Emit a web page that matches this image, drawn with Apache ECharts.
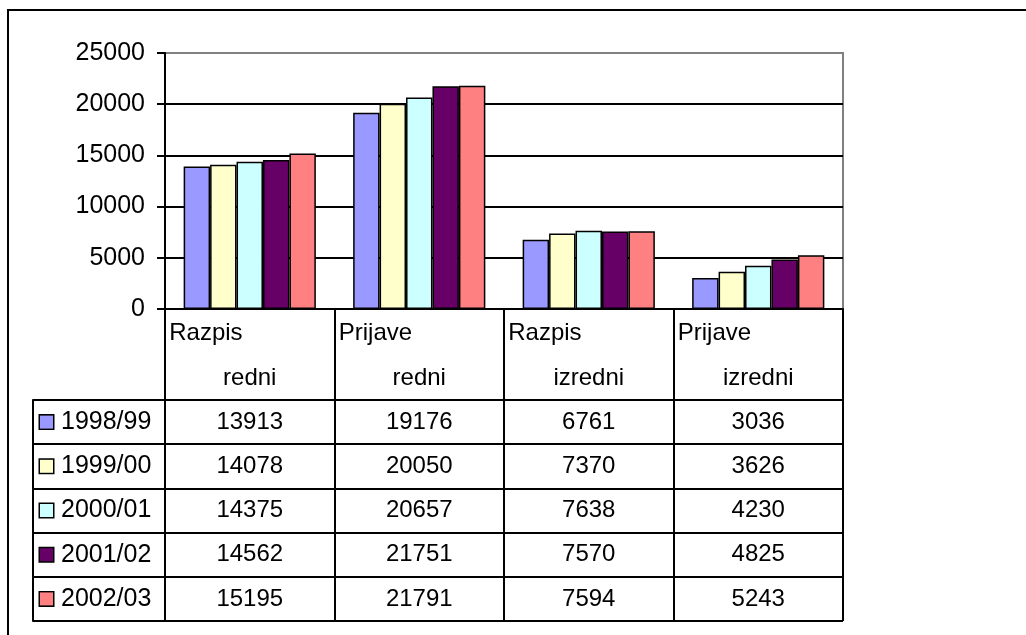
<!DOCTYPE html>
<html>
<head>
<meta charset="utf-8">
<script src="https://cdn.jsdelivr.net/npm/echarts@6/dist/echarts.min.js"></script>
<style>
html,body{margin:0;padding:0;background:#fff;overflow:hidden;}
#frame{position:absolute;left:7px;top:9px;width:1100px;height:700px;border:2px solid #000;box-sizing:border-box;}
#chart{position:absolute;left:0;top:0;width:1026px;height:635px;}
</style>
</head>
<body>
<div id="frame"></div>
<div id="chart"></div>
<script>
// ---- data ----
const categoriesTop = ['Razpis', 'Prijave', 'Razpis', 'Prijave'];
const categoriesBottom = ['redni', 'redni', 'izredni', 'izredni'];
const years = ['1998/99', '1999/00', '2000/01', '2001/02', '2002/03'];
const v1998 = [13913, 19176, 6761, 3036];
const v1999 = [14078, 20050, 7370, 3626];
const v2000 = [14375, 20657, 7638, 4230];
const v2001 = [14562, 21751, 7570, 4825];
const v2002 = [15195, 21791, 7594, 5243];
const yTicks = [0, 5000, 10000, 15000, 20000, 25000];
const colors = ['#9999FF', '#FFFFCC', '#CCFFFF', '#660066', '#FF8080'];

const seriesValues = [v1998, v1999, v2000, v2001, v2002];
const categories = categoriesTop.map((t, i) => t + ' ' + categoriesBottom[i]);
const FONT = 'Liberation Sans, Arial, sans-serif';

const chart = echarts.init(document.getElementById('chart'), null, {renderer: 'canvas'});

const legendRich = {t: {fontSize: 25, fontFamily: FONT, color: '#000', padding: [0, 0, 0, 8]}};
colors.forEach((c, i) => {
  legendRich['s' + i] = {width: 13, height: 13, backgroundColor: c, borderColor: '#000', borderWidth: 1.5};
});

const barSeries = seriesValues.map((vals, i) => ({
  name: years[i],
  type: 'bar',
  xAxisIndex: 0,
  yAxisIndex: 0,
  data: vals,
  barGap: '0%',
  barCategoryGap: '22%',
  itemStyle: {color: colors[i], borderColor: '#000', borderWidth: 1.5},
  emphasis: {disabled: true},
  z: 3
}));

const cellData = [];
seriesValues.forEach((vals, i) => vals.forEach((v, j) => cellData.push([j, i, v])));

const option = {
  animation: false,
  backgroundColor: 'transparent',
  textStyle: {fontFamily: FONT, color: '#000'},
  grid: [
    {left: 165, right: 183, top: 53, bottom: 326, show: true, borderColor: '#808080', borderWidth: 2, backgroundColor: 'transparent'},
    {left: 165, right: 183, top: 400, bottom: 14, show: false}
  ],
  xAxis: [
    {
      type: 'category', gridIndex: 0, data: categories, boundaryGap: true,
      axisLine: {show: true, lineStyle: {color: '#000', width: 2}},
      axisTick: {show: true, interval: 0, length: 91, inside: false, lineStyle: {color: '#000', width: 2}},
      axisLabel: {
        interval: 0, margin: 0,
        formatter: (val, idx) => '{a|' + categoriesTop[idx] + '}\n{b|' + categoriesBottom[idx] + '}',
        rich: {
          a: {width: 165, align: 'left', fontSize: 24, fontFamily: FONT, color: '#000', lineHeight: 46, padding: [2, 0, 0, 4]},
          b: {width: 169, align: 'center', fontSize: 24, fontFamily: FONT, color: '#000', lineHeight: 46}
        }
      },
      splitLine: {show: false}
    },
    {
      type: 'category', gridIndex: 1, data: categories, position: 'top', boundaryGap: true,
      axisLine: {show: true, lineStyle: {color: '#000', width: 2}},
      axisTick: {show: false},
      axisLabel: {show: false},
      splitLine: {show: true, interval: 0, lineStyle: {color: '#000', width: 2}}
    }
  ],
  yAxis: [
    {
      type: 'value', gridIndex: 0, min: yTicks[0], max: yTicks[yTicks.length - 1], interval: yTicks[1] - yTicks[0],
      axisLine: {show: true, lineStyle: {color: '#000', width: 2}},
      axisTick: {show: true, length: 8, lineStyle: {color: '#000', width: 2}},
      axisLabel: {fontSize: 25, fontFamily: FONT, color: '#000', margin: 20, formatter: v => String(v)},
      splitLine: {show: true, showMinLine: false, showMaxLine: false, lineStyle: {color: '#000', width: 2}}
    },
    {
      type: 'category', gridIndex: 1, data: years, inverse: true, boundaryGap: true,
      axisLine: {show: true, lineStyle: {color: '#000', width: 2}},
      axisTick: {show: true, interval: 0, length: 132, lineStyle: {color: '#000', width: 2}},
      axisLabel: {
        interval: 0, margin: 125, align: 'left',
        formatter: (val, idx) => '{s' + idx + '|}{t|' + val + '}',
        rich: legendRich
      },
      splitLine: {show: true, interval: 0, lineStyle: {color: '#000', width: 2}}
    },
    {
      type: 'category', gridIndex: 1, data: years, inverse: true, position: 'left', offset: 132,
      axisLine: {show: true, lineStyle: {color: '#000', width: 2}},
      axisTick: {show: false},
      axisLabel: {show: false},
      splitLine: {show: false}
    }
  ],
  series: barSeries.concat([{
    type: 'scatter',
    xAxisIndex: 1,
    yAxisIndex: 1,
    data: cellData,
    symbolSize: 1,
    itemStyle: {color: 'rgba(0,0,0,0)'},
    silent: true,
    label: {
      show: true, position: 'inside', fontSize: 24, fontFamily: FONT, color: '#000',
      textBorderWidth: 0, opacity: 1,
      formatter: p => String(p.value[2])
    }
  }])
};

chart.setOption(option);
</script>
</body>
</html>
